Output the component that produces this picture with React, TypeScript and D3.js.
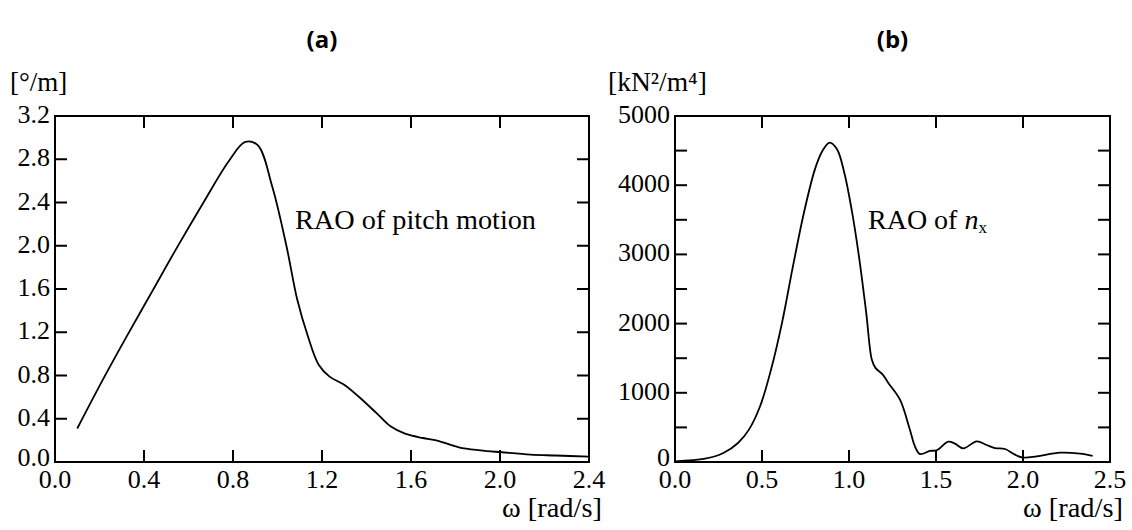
import React from "react";
import * as d3 from "d3";

// panel (a): RAO of pitch motion
const pitchOmega = [0.1, 0.22, 0.33, 0.44, 0.55, 0.67, 0.78, 0.855, 0.911, 0.976, 1.04, 1.089, 1.137, 1.185, 1.234, 1.298, 1.363, 1.444, 1.508, 1.573, 1.653, 1.718, 1.815, 1.911, 2.008, 2.137, 2.25, 2.4];
const pitchRAO = [0.31, 0.78, 1.19, 1.59, 1.99, 2.41, 2.78, 2.96, 2.93, 2.55, 2.0, 1.5, 1.16, 0.9, 0.79, 0.716, 0.608, 0.454, 0.33, 0.262, 0.222, 0.198, 0.136, 0.108, 0.09, 0.068, 0.06, 0.05];

// panel (b): RAO of n_x
const nxOmega = [0, 0.173, 0.278, 0.362, 0.425, 0.489, 0.552, 0.615, 0.678, 0.741, 0.804, 0.847, 0.889, 0.931, 0.973, 1.015, 1.057, 1.099, 1.131, 1.152, 1.194, 1.226, 1.293, 1.35, 1.379, 1.408, 1.465, 1.504, 1.571, 1.609, 1.657, 1.734, 1.791, 1.839, 1.897, 1.954, 2.002, 2.079, 2.213, 2.328, 2.4];
const nxRAO = [10, 48, 130, 275, 468, 805, 1336, 2011, 2830, 3602, 4229, 4494, 4614, 4518, 4180, 3650, 2975, 2155, 1480, 1360, 1263, 1143, 900, 467, 226, 115, 160, 170, 294, 265, 197, 299, 246, 202, 188, 106, 63, 82, 135, 120, 87];

const pitchXTicks = [0, 0.4, 0.8, 1.2, 1.6, 2.0, 2.4];
const pitchYTicks = [0, 0.4, 0.8, 1.2, 1.6, 2.0, 2.4, 2.8, 3.2];
const nxXTicks = [0, 0.5, 1.0, 1.5, 2.0, 2.5];
const nxYTicks = [0, 500, 1000, 1500, 2000, 2500, 3000, 3500, 4000, 4500, 5000];

const serif = "'Liberation Serif', 'Times New Roman', serif";
const tickFs = 26;
const labelFs = 28;
const top = 116;
const bottom = 462;
const tickLen = 12;

const Panel = ({ x0, x1, xDomain, yDomain, xTicks, yTicks, yLabelEvery, xFmt, yFmt, xs, ys, title, unit, note }) => {
  const x = d3.scaleLinear().domain(xDomain).range([x0, x1]);
  const y = d3.scaleLinear().domain(yDomain).range([bottom, top]);
  const line = d3
    .line<number>()
    .x((d, i) => x(xs[i]))
    .y((d) => y(d))
    .curve(d3.curveCatmullRom.alpha(0.5));
  const inner = (v, lo, hi) => v > lo && v < hi;

  return (
    <g>
      <text x={(x0 + x1) / 2} y={48} textAnchor="middle" fontFamily="'Open Sans', sans-serif" fontWeight="bold" fontSize={24}>
        {title}
      </text>
      {unit}
      <path d={line(ys) || ""} fill="none" stroke="#000" strokeWidth={1.8} />
      <rect x={x0} y={top} width={x1 - x0} height={bottom - top} fill="none" stroke="#000" strokeWidth={2} />
      {xTicks.filter((t) => inner(t, xDomain[0], xDomain[1])).map((t) => (
        <g key={"xt" + t}>
          <line x1={x(t)} x2={x(t)} y1={bottom} y2={bottom - tickLen} stroke="#000" strokeWidth={2} />
          <line x1={x(t)} x2={x(t)} y1={top} y2={top + tickLen} stroke="#000" strokeWidth={2} />
        </g>
      ))}
      {yTicks.filter((t) => inner(t, yDomain[0], yDomain[1])).map((t) => (
        <g key={"yt" + t}>
          <line x1={x0} x2={x0 + tickLen} y1={y(t)} y2={y(t)} stroke="#000" strokeWidth={2} />
          <line x1={x1} x2={x1 - tickLen} y1={y(t)} y2={y(t)} stroke="#000" strokeWidth={2} />
        </g>
      ))}
      {xTicks.map((t) => (
        <text key={"xl" + t} x={x(t)} y={488} textAnchor="middle" fontFamily={serif} fontSize={tickFs}>
          {xFmt(t)}
        </text>
      ))}
      {yTicks.filter((t, i) => i % yLabelEvery === 0).map((t) => (
        <text key={"yl" + t} x={x0 - 5} y={y(t) + (t === 0 ? 4 : 7)} textAnchor="end" fontFamily={serif} fontSize={tickFs}>
          {yFmt(t)}
        </text>
      ))}
      <text x={x1 + 13} y={517} textAnchor="end" fontFamily={serif} fontSize={labelFs} textLength={100} lengthAdjust="spacingAndGlyphs">
        ω [rad/s]
      </text>
      {note}
    </g>
  );
};

export default function App() {
  return (
    <svg width={1132} height={530} style={{ display: "block", position: "absolute", left: 0, top: 0 }}>
      <rect width={1132} height={530} fill="#fff" />
      <Panel
        x0={55}
        x1={589}
        xDomain={[0, 2.4]}
        yDomain={[0, 3.2]}
        xTicks={pitchXTicks}
        yTicks={pitchYTicks}
        yLabelEvery={1}
        xFmt={(v) => v.toFixed(1)}
        yFmt={(v) => v.toFixed(1)}
        xs={pitchOmega}
        ys={pitchRAO}
        title="(a)"
        unit={
          <text x={10} y={91} fontFamily={serif} fontSize={27}>
            [°/m]
          </text>
        }
        note={
          <text x={295} y={229} fontFamily={serif} fontSize={labelFs} textLength={241} lengthAdjust="spacingAndGlyphs">
            RAO of pitch motion
          </text>
        }
      />
      <Panel
        x0={675}
        x1={1110}
        xDomain={[0, 2.5]}
        yDomain={[0, 5000]}
        xTicks={nxXTicks}
        yTicks={nxYTicks}
        yLabelEvery={2}
        xFmt={(v) => v.toFixed(1)}
        yFmt={(v) => String(v)}
        xs={nxOmega}
        ys={nxRAO}
        title="(b)"
        unit={
          <text x={608} y={91} fontFamily={serif} fontSize={27.5}>
            [kN²/m⁴]
          </text>
        }
        note={
          <text x={868} y={229} fontFamily={serif} fontSize={labelFs}>
            RAO of <tspan fontStyle="italic">n</tspan>
            <tspan fontSize={17} dy={4}>x</tspan>
          </text>
        }
      />
    </svg>
  );
}
